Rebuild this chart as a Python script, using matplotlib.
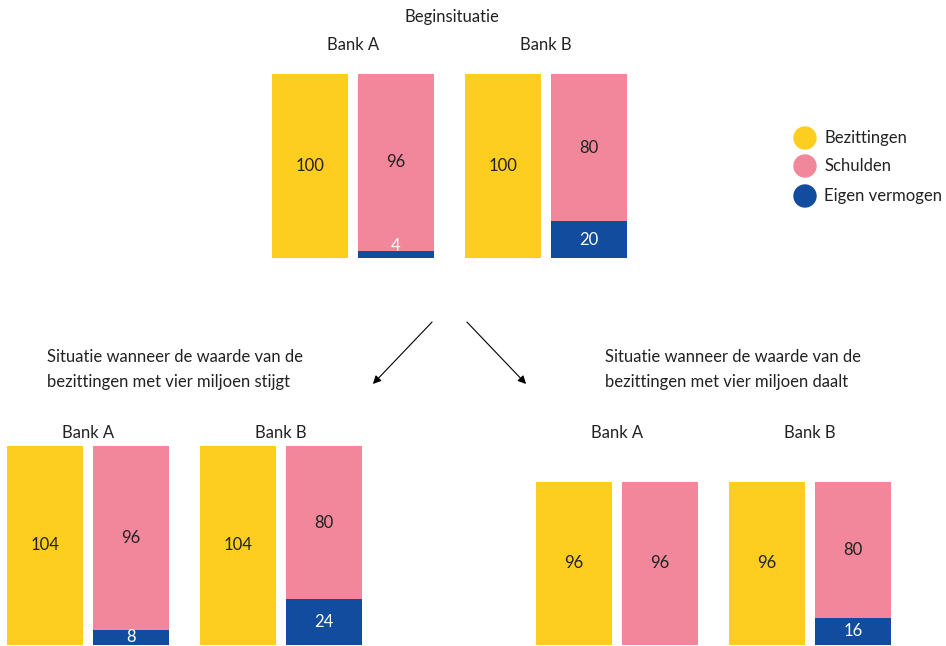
import matplotlib.pyplot as plt
from matplotlib import transforms
from matplotlib.patches import Circle

plt.rcParams['font.family'] = ['Lato', 'DejaVu Sans']

banks = ['Bank A', 'Bank B']
series = ['Bezittingen', 'Schulden', 'Eigen vermogen']

begin_bezit = [100, 100]
begin_schuld = [96, 80]
begin_eigen = [4, 20]

stijgt_bezit = [104, 104]
stijgt_schuld = [96, 80]
stijgt_eigen = [8, 24]

daalt_bezit = [96, 96]
daalt_schuld = [96, 80]
daalt_eigen = [0, 16]

yellow = '#FDCD1F'
pink = '#F2879B'
blue = '#114C9E'
dark = '#222222'

W, H = 946, 646
fig = plt.figure(figsize=(W / 100, H / 100), dpi=100)

# overlay axes in pixel coordinates for titles, arrows and legend
bg = fig.add_axes([0, 0, 1, 1])
bg.set_xlim(0, W)
bg.set_ylim(H, 0)
bg.axis('off')

step = 86  # px between the two bars of one bank
bw = 76 / step
xpos_bezit = [0, 193 / step]
xpos_schuld = [1, 279 / step]


def panel(x0, base, top, bezit, schuld, eigen, label_y):
    vmax = max(bezit)
    scale = (base - top) / vmax
    left = x0 - bw / 2 * step
    width = (xpos_schuld[1] + bw) * step
    ax = fig.add_axes([left / W, (H - base) / H, width / W, vmax * scale / H])
    ax.set_xlim(-bw / 2, xpos_schuld[1] + bw / 2)
    ax.set_ylim(0, vmax)
    ax.axis('off')
    ax.bar(xpos_bezit, bezit, width=bw, color=yellow)
    ax.bar(xpos_schuld, eigen, width=bw, color=blue)
    ax.bar(xpos_schuld, schuld, width=bw, bottom=eigen, color=pink)
    for i in range(len(banks)):
        ax.text(xpos_bezit[i], bezit[i] / 2, str(bezit[i]), ha='center', va='center',
                fontsize=12, color=dark)
        ax.text(xpos_schuld[i], eigen[i] + schuld[i] / 2, str(schuld[i]), ha='center',
                va='center', fontsize=12, color=dark)
        if eigen[i] > 0:
            ax.text(xpos_schuld[i], max(eigen[i] / 2, 0.3), str(eigen[i]), ha='center',
                    va='center' if eigen[i] >= 8 else 'bottom', fontsize=12, color='white')
        tr = transforms.blended_transform_factory(ax.transData, fig.transFigure)
        cx = (xpos_bezit[i] + xpos_schuld[i]) / 2
        ax.text(cx, 1 - label_y / H, banks[i], transform=tr, ha='center', va='center',
                fontsize=12, color=dark)
    return ax


panel(310, 258, 74, begin_bezit, begin_schuld, begin_eigen, 45)
panel(45, 645, 446, stijgt_bezit, stijgt_schuld, stijgt_eigen, 433)
panel(574, 645, 482, daalt_bezit, daalt_schuld, daalt_eigen, 433)

bg.text(452, 17, 'Beginsituatie', ha='center', va='center', fontsize=12, color=dark)

bg.text(47, 357, 'Situatie wanneer de waarde van de', ha='left', va='center',
        fontsize=12, color=dark)
bg.text(47, 382, 'bezittingen met vier miljoen stijgt', ha='left', va='center',
        fontsize=12, color=dark)
bg.text(605, 357, 'Situatie wanneer de waarde van de', ha='left', va='center',
        fontsize=12, color=dark)
bg.text(605, 382, 'bezittingen met vier miljoen daalt', ha='left', va='center',
        fontsize=12, color=dark)

bg.annotate('', xy=(371, 386), xytext=(434, 320),
            arrowprops=dict(arrowstyle='-|>', color='black', lw=0.8, mutation_scale=12))
bg.annotate('', xy=(528, 386), xytext=(465, 320),
            arrowprops=dict(arrowstyle='-|>', color='black', lw=0.8, mutation_scale=12))

for name, col, y in zip(series, [yellow, pink, blue], [138, 166, 196]):
    bg.add_patch(Circle((805, y), 11, color=col))
    bg.text(824, y, name, ha='left', va='center', fontsize=12, color=dark)

fig.savefig('out.png', dpi=100)
